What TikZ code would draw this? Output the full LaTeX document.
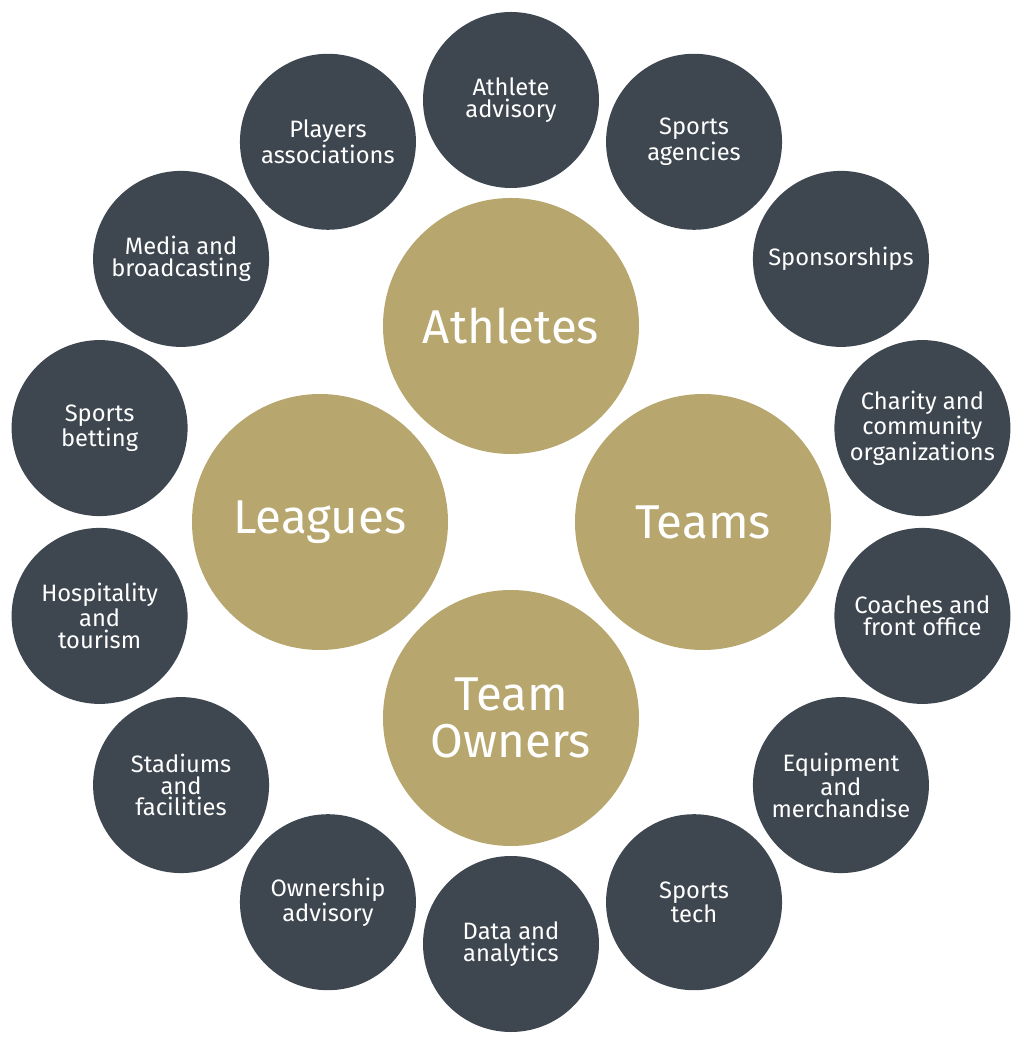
\documentclass[tikz,border=0pt]{standalone}
\usepackage{fontspec}
\setmainfont{Fira Sans}
\usetikzlibrary{positioning}
\definecolor{slate}{RGB}{62,71,79}
\definecolor{gold}{RGB}{183,167,111}

\begin{document}
\begin{tikzpicture}[every node/.style={circle, text=white, align=center, inner sep=0pt},
  outer/.style={fill=slate, minimum size=3.52cm, font=\fontsize{13.5}{12.4}\selectfont},
  hub/.style={fill=gold, minimum size=5.12cm, font=\fontsize{27}{27}\selectfont}]
  \useasboundingbox (-10.22,-10.44) rectangle (10.26,10.44);

  % Four central circles
  \node[hub] (athletes) at (0,3.92)   {Athletes};
  \node[hub] (leagues)  at (-3.82,0)  {Leagues};
  \node[hub] (teams)    at (3.84,0)   {Teams};
  \node[hub] (owners)   at (0,-3.92)  {Team\\Owners};

  % Fourteen outer circles
  \node[outer] (advisory)    at (90:8.44)     {Athlete\\advisory};
  \node[outer] (agencies)    at (64.29:8.44)  {Sports\\agencies};
  \node[outer] (sponsor)     at (38.57:8.44)  {Sponsorships};
  \node[outer] (charity)     at (12.86:8.44)  {Charity and\\community\\organizations};
  \node[outer] (coaches)     at (-12.86:8.44) {Coaches and\\front office};
  \node[outer] (equipment)   at (-38.57:8.44) {Equipment\\and\\merchandise};
  \node[outer] (tech)        at (-64.29:8.44) {Sports\\tech};
  \node[outer] (data)        at (-90:8.44)    {Data and\\analytics};
  \node[outer] (ownership)   at (-115.71:8.44) {Ownership\\advisory};
  \node[outer] (stadiums)    at (-141.43:8.44) {Stadiums\\and\\facilities};
  \node[outer] (hospitality) at (-167.14:8.44) {Hospitality\\and\\tourism};
  \node[outer] (betting)     at (167.14:8.44) {Sports\\betting};
  \node[outer] (media)       at (141.43:8.44) {Media and\\broadcasting};
  \node[outer] (players)     at (115.71:8.44) {Players\\associations};
\end{tikzpicture}
\end{document}
